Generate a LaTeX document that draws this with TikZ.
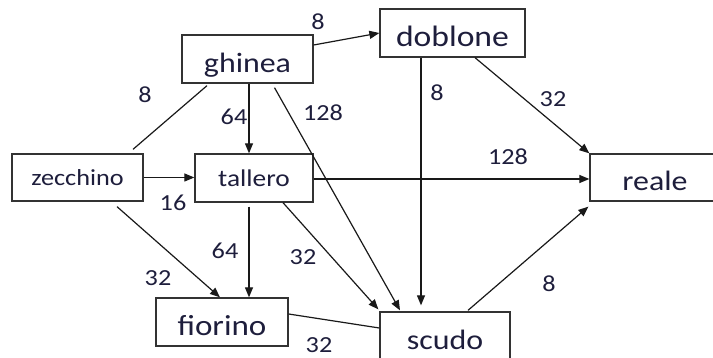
\documentclass[tikz,border=0pt]{standalone}
\usepackage{fontspec}
\setmainfont{Carlito}[FakeStretch=1.14]
\usetikzlibrary{arrows.meta,calc}
\definecolor{txt}{RGB}{30,30,60}
\begin{document}
\begin{tikzpicture}[x=1pt,y=-1pt,
  box/.style={draw=black!80, line width=1.3pt, inner sep=0pt, text depth=0pt, text=txt},
  bigbox/.style={box, text height=27pt, font=\fontsize{#1}{#1}\selectfont},
  smallbox/.style={box, text height=17pt, font=\fontsize{#1}{#1}\selectfont},
  conn/.style={line width=1.2pt, draw=black!90},
  arr/.style={conn, -{Triangle[length=10pt,width=8pt]}},
  num/.style={font=\fontsize{23}{23}\selectfont, text=txt, inner sep=0pt}
]
\useasboundingbox (0,0) rectangle (713,358);
\fill[white] (0,0) rectangle (713,358);

\node[bigbox=28, minimum width=131pt, minimum height=48pt] (ghinea) at (247.5,59) {ghinea};
\node[bigbox=29.5, minimum width=145pt, minimum height=48pt] (doblone) at (452.5,33) {doblone};
\node[smallbox=23, minimum width=131pt, minimum height=47pt] (zecchino) at (77.5,177.5) {zecchino};
\node[smallbox=24, minimum width=118pt, minimum height=48pt] (tallero) at (254,178) {tallero};
\node[bigbox=28, minimum width=130pt, minimum height=47pt] (reale) at (655,177.5) {reale};
\node[bigbox=29, minimum width=132pt, minimum height=48pt] (fiorino) at (222,322) {fiorino};
\node[bigbox=28, minimum width=130pt, minimum height=48pt] (scudo) at (445,336) {scudo};

\draw[arr] ($(ghinea.east)+(0,-14)$) -- (doblone.west);
\draw[conn] ($(ghinea.south)+(-40.5,2)$) -- ($(zecchino.north)+(55.5,-4)$);
\draw[arr] ($(ghinea.south)+(1.5,0)$) -- ($(tallero.north)+(-5,0)$);
\draw[arr] ($(ghinea.south)+(27,4)$) -- ($(scudo.north)+(-45,-1)$);
\draw[arr, shorten >=6pt] ($(doblone.south)+(-31.5,0)$) -- ($(scudo.north)+(-24,0)$);
\draw[arr] ($(doblone.south)+(22.5,0)$) -- (reale.north west);
\draw[arr] ($(tallero.east)+(0,1)$) -- ($(reale.west)+(0,1.5)$);
\draw[arr] (zecchino.east) -- (zecchino.east -| tallero.west);
\draw[arr] ($(zecchino.south)+(39.5,5)$) -- ($(fiorino.north)+(-2,0)$);
\draw[arr] ($(tallero.south)+(-5,4)$) -- ($(fiorino.north)+(27,0)$);
\draw[arr] ($(tallero.south)+(29,0)$) -- ($(scudo.north west)+(-1,-2)$);
\draw[conn] ($(fiorino.east)+(0,-8)$) -- ($(scudo.west)+(0,-8)$);
\draw[arr] ($(scudo.north)+(23,-1)$) -- ($(reale.south west)+(-1,5)$);

\node[num] (n1) at (318,22) {8};
\node[num] (n2) at (145,95) {8};
\node[num] (n3) at (234,117) {64};
\node[num] (n4) at (323,113) {128};
\node[num] (n5) at (437,93) {8};
\node[num] (n6) at (553,99) {32};
\node[num] (n7) at (508,157) {128};
\node[num] (n8) at (173,203) {16};
\node[num] (n9) at (225,251) {64};
\node[num] (n10) at (158,278) {32};
\node[num] (n11) at (303,257) {32};
\node[num] (n12) at (319,345) {32};
\node[num] (n13) at (549,284) {8};
\end{tikzpicture}
\end{document}
